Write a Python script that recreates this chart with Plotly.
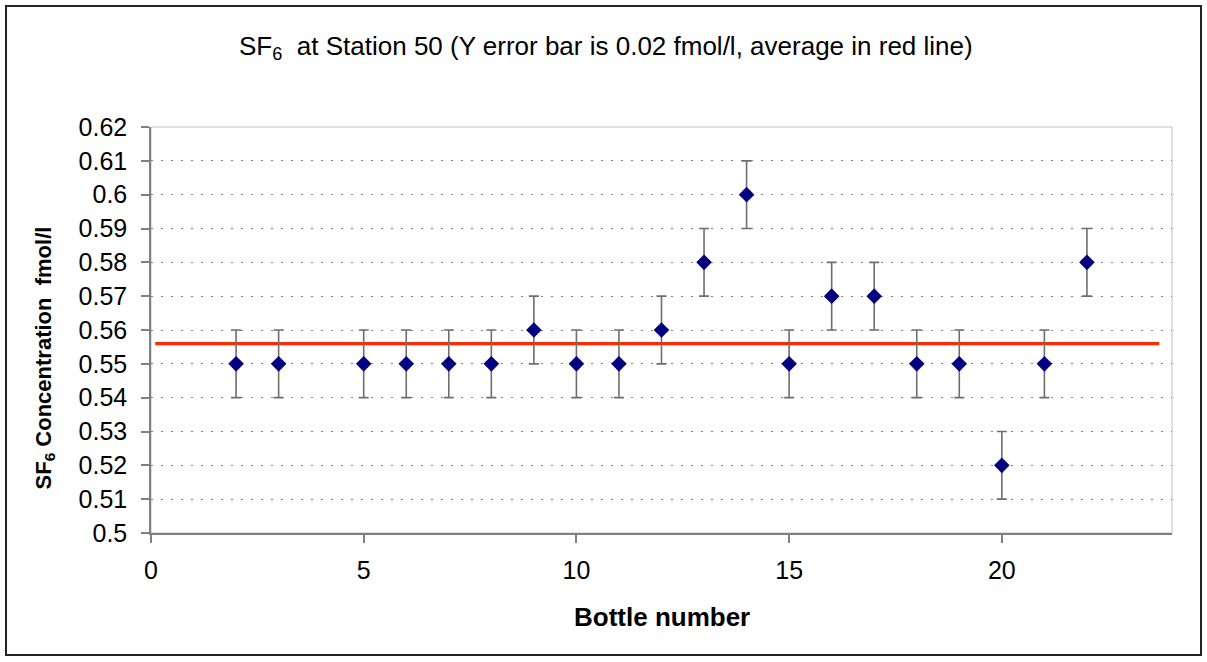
import plotly.graph_objects as go

# Bottle numbers and SF6 concentrations (fmol/l)
bottles = [2, 3, 5, 6, 7, 8, 9, 10, 11, 12, 13, 14, 15, 16, 17, 18, 19, 20, 21, 22]
sf6 = [0.55, 0.55, 0.55, 0.55, 0.55, 0.55, 0.56, 0.55, 0.55, 0.56,
       0.58, 0.60, 0.55, 0.57, 0.57, 0.55, 0.55, 0.52, 0.55, 0.58]
err_half = 0.01  # +/- half of the 0.02 fmol/l error bar

# Average line
avg_x = [0.1, 23.7]
avg_y = [0.556, 0.556]

font_family = "Liberation Sans, Arial, sans-serif"
NB = "\u00a0"

fig = go.Figure()

fig.add_trace(go.Scatter(
    x=avg_x, y=avg_y, mode="lines",
    line=dict(color="#FF2A00", width=3.2),
    hoverinfo="skip", showlegend=False,
))

fig.add_trace(go.Scatter(
    x=bottles, y=sf6, mode="markers",
    marker=dict(symbol="diamond", size=12, color="#000080"),
    error_y=dict(type="constant", value=err_half, color="#6e6e6e",
                 thickness=1.6, width=5),
    showlegend=False,
))

shapes = [
    # plot-area frame (light grey on top/right)
    dict(type="rect", xref="paper", yref="paper", x0=0, x1=1, y0=0, y1=1,
         line=dict(color="#c0c0c0", width=1), layer="below"),
    # outer chart border
    dict(type="rect", xref="paper", yref="paper",
         x0=-0.142, x1=1.0284, y0=-0.3005, y1=1.298,
         line=dict(color="#222222", width=2)),
]

annotations = [
    dict(text=f"SF<sub>6</sub>{NB}{NB}at Station 50 (Y error bar is 0.02 fmol/l, average in red line)",
         xref="paper", yref="paper", x=0.4456, y=1.197,
         xanchor="center", yanchor="middle", showarrow=False,
         font=dict(family=font_family, size=26, color="black")),
    dict(text=f"<b>SF<sub>6</sub> Concentration{NB}{NB}fmol/l</b>",
         xref="paper", yref="paper", x=-0.1038, y=0.43, textangle=-90,
         xanchor="center", yanchor="middle", showarrow=False,
         font=dict(family=font_family, size=22, color="black")),
    dict(text="<b>Bottle number</b>",
         xref="paper", yref="paper", x=0.5, y=-0.207,
         xanchor="center", yanchor="middle", showarrow=False,
         font=dict(family=font_family, size=26, color="black")),
]

fig.update_layout(
    width=1207, height=662, autosize=False,
    margin=dict(l=151, r=35, t=127, b=129, pad=0),
    paper_bgcolor="white", plot_bgcolor="white",
    font=dict(family=font_family, size=25, color="black"),
    shapes=shapes, annotations=annotations,
    xaxis=dict(
        range=[0, 24], tick0=0, dtick=5, showgrid=False, zeroline=False,
        showline=True, linecolor="#808080", linewidth=1.5,
        ticks="outside", ticklen=8, tickcolor="#808080", tickwidth=1.5,
        tickfont=dict(size=25), ticklabelstandoff=6,
    ),
    yaxis=dict(
        range=[0.5, 0.62], tick0=0.5, dtick=0.01, zeroline=False,
        showgrid=True, gridcolor="#808080", gridwidth=1.2, griddash="2px,8px",
        showline=True, linecolor="#808080", linewidth=1.5,
        ticks="outside", ticklen=8, tickcolor="#808080", tickwidth=1.5,
        tickfont=dict(size=25), ticklabelstandoff=9,
    ),
)

fig.write_html("out.html")
